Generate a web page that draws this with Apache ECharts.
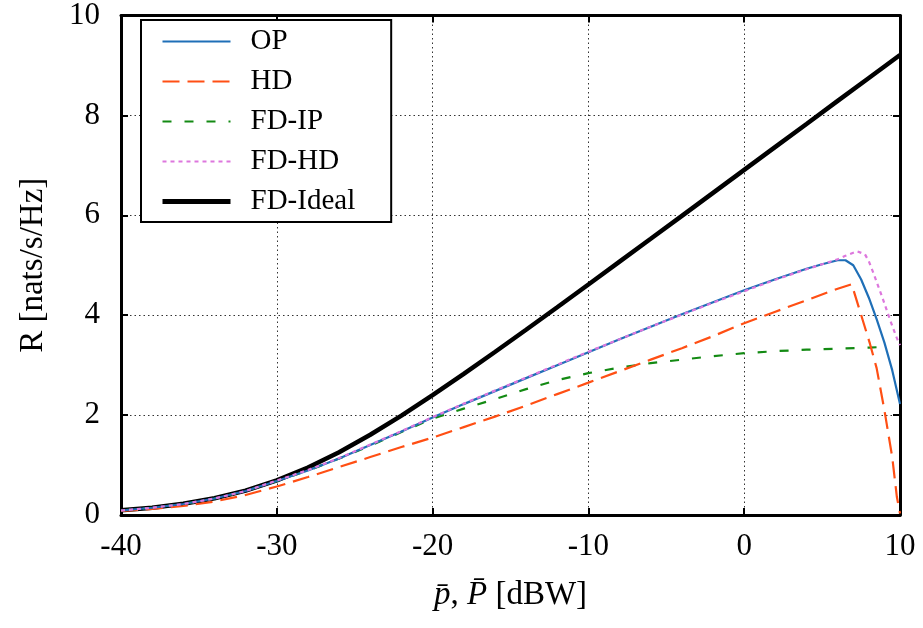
<!DOCTYPE html>
<html><head><meta charset="utf-8">
<script src="https://cdn.jsdelivr.net/npm/echarts@6/dist/echarts.min.js"></script>
<style>html,body{margin:0;padding:0;background:#fff}#c{width:923px;height:628px}</style>
</head><body><div id="c"></div>
<script>
// ---- data ----
const xTicks = [-40, -30, -20, -10, 0, 10];
const yTicks = [0, 2, 4, 6, 8, 10];

const idealX = [-40,-38,-36,-34,-32,-30,-28,-26,-24,-22,-20,-18,-16,-14,-12,-10,-8,-6,-4,-2,0,2,4,6,8,10];
const idealY = [0.095,0.147,0.224,0.336,0.489,0.693,0.950,1.256,1.606,1.989,2.398,2.824,3.263,3.709,4.160,4.615,5.072,5.530,5.989,6.449,6.909,7.369,7.829,8.290,8.750,9.210];

const opX = [-40,-38,-36,-34,-32,-30,-28,-26,-24,-22,-20,-18,-16,-14,-12,-10,-8,-6,-4,-2,0,2,4,5,6,6.5,7,7.5,8,8.5,9,9.5,10];
const opY = [0.09,0.145,0.22,0.33,0.48,0.68,0.89,1.13,1.40,1.67,1.95,2.22,2.48,2.74,3.00,3.26,3.52,3.77,4.02,4.26,4.50,4.72,4.93,5.02,5.10,5.10,5.00,4.72,4.35,3.92,3.45,2.90,2.22];

const hdX = [-40,-38,-36,-34,-32,-30,-28,-26,-24,-22,-20,-18,-16,-14,-12,-10,-8,-6,-4,-2,0,2,4,6,6.9,7.55,8.07,8.5,9,9.5,9.8,10];
const hdY = [0.08,0.12,0.18,0.27,0.40,0.57,0.76,0.96,1.16,1.36,1.55,1.76,1.97,2.19,2.42,2.65,2.88,3.11,3.34,3.58,3.84,4.07,4.30,4.53,4.62,3.96,3.43,2.94,2.10,1.16,0.36,0.03];

const ipX = [-40,-38,-36,-34,-32,-30,-28,-26,-24,-22,-20,-18,-16,-14,-12,-10,-8,-6,-4,-2,0,2,4,6,8,9.2];
const ipY = [0.09,0.145,0.22,0.33,0.48,0.68,0.89,1.13,1.39,1.66,1.93,2.13,2.32,2.52,2.70,2.84,2.95,3.04,3.11,3.18,3.24,3.28,3.31,3.33,3.35,3.37];

const fdhdX = [-40,-38,-36,-34,-32,-30,-28,-26,-24,-22,-20,-18,-16,-14,-12,-10,-8,-6,-4,-2,0,2,4,5,6,6.5,7,7.25,7.75,8.0,8.3,8.85,9.37,9.8,10];
const fdhdY = [0.09,0.145,0.22,0.33,0.48,0.69,0.90,1.14,1.41,1.68,1.96,2.23,2.49,2.75,3.01,3.27,3.52,3.77,4.01,4.25,4.48,4.71,4.92,5.02,5.12,5.19,5.25,5.28,5.22,5.08,4.84,4.37,3.90,3.54,3.40];

const seriesNames = ['OP', 'HD', 'FD-IP', 'FD-HD', 'FD-Ideal'];

// ---- build ----
const pairs = (xs, ys) => xs.map((x, i) => [x, ys[i]]);
const font = 'Liberation Serif';
const chart = echarts.init(document.getElementById('c'), null, {renderer: 'canvas'});

const mkX = (pos, show) => ({
  type: 'value', position: pos, min: -40, max: 10, interval: 10,
  axisLine: {show: true, onZero: false, lineStyle: {color: '#000', width: 3}},
  axisTick: {show: true, inside: true, length: 7, lineStyle: {color: '#000', width: 2}},
  axisLabel: {show: show, margin: 16, color: '#000', fontFamily: font, fontSize: 31},
  splitLine: {show: show, lineStyle: {color: '#333', type: [1.5, 3], width: 1}}
});
const mkY = (pos, show) => ({
  type: 'value', position: pos, min: 0, max: 10, interval: 2,
  axisLine: {show: true, onZero: false, lineStyle: {color: '#000', width: 3}},
  axisTick: {show: true, inside: true, length: 7, lineStyle: {color: '#000', width: 2}},
  axisLabel: {show: show, margin: 21, color: '#000', fontFamily: font, fontSize: 31},
  splitLine: {show: show, lineStyle: {color: '#333', type: [1.5, 3], width: 1}}
});

const xMain = Object.assign(mkX('bottom', true), {
  name: '{i|p̄}, {i|P̄} [dBW]', nameLocation: 'middle', nameGap: 64,
  nameTextStyle: {color: '#000', fontFamily: font, fontSize: 33,
    rich: {i: {fontStyle: 'italic', fontFamily: font, fontSize: 33, color: '#000'}}}
});
const yMain = Object.assign(mkY('left', true), {
  name: 'R [nats/s/Hz]', nameLocation: 'middle', nameGap: 71,
  nameTextStyle: {color: '#000', fontFamily: font, fontSize: 33}
});

const line = (name, data, color, width, type, z) => ({
  name, type: 'line', data, showSymbol: false, symbol: 'none', smooth: false,
  xAxisIndex: 0, yAxisIndex: 0, z: z,
  lineStyle: {color, width, type}, itemStyle: {color}
});

chart.setOption({
  animation: false,
  backgroundColor: '#fff',
  grid: {left: 121, right: 23, top: 15, bottom: 113, containLabel: false},
  xAxis: [xMain, mkX('top', false)],
  yAxis: [yMain, mkY('right', false)],
  legend: {
    orient: 'vertical', left: 141, top: 20,
    data: seriesNames.map(n => n === 'FD-Ideal' ? {name: n, lineStyle: {width: 5}} : n),
    itemWidth: 68, itemHeight: 20, itemGap: 11,
    padding: [7, 36, 6, 19],
    borderColor: '#000', borderWidth: 2, backgroundColor: '#fff',
    itemStyle: {opacity: 0},
    textStyle: {color: '#000', fontFamily: font, fontSize: 29, padding: [0, 0, 0, 15]}
  },
  series: [
    line('OP', pairs(opX, opY), '#1f6fb7', 2.2, 'solid', 5),
    line('HD', pairs(hdX, hdY), '#ff4f14', 2.2, [17, 8], 4),
    line('FD-IP', pairs(ipX, ipY), '#138a13', 2.2, [9, 13], 3),
    line('FD-HD', pairs(fdhdX, fdhdY), '#dd77dd', 2.2, [4, 4], 6),
    line('FD-Ideal', pairs(idealX, idealY), '#000', 4.5, 'solid', 2)
  ]
});
</script></body></html>
